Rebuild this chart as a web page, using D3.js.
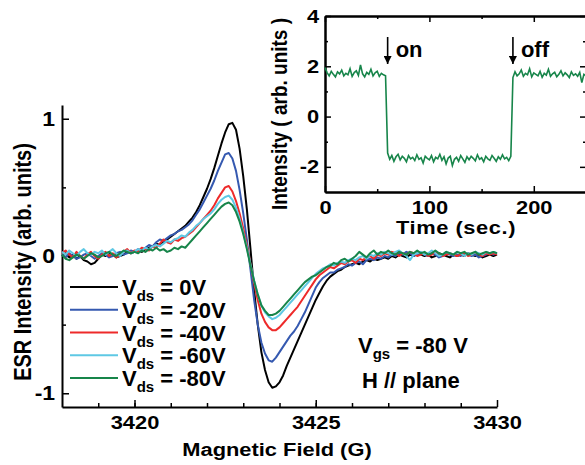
<!DOCTYPE html>
<html>
<head>
<meta charset="utf-8">
<script src="https://cdn.jsdelivr.net/npm/d3@7"></script>
<style>
  html, body { margin: 0; padding: 0; background: #fff; }
  svg { display: block; font-family: "Liberation Sans", Arial, sans-serif; font-weight: bold; }
</style>
</head>
<body>
<div id="chart"></div>
<script>
// campo magnético (G), passo 0.1
const field = d3.range(121).map(i => +(3418 + i * 0.1).toFixed(1));

// espectros ESR, um por Vds
const vds0 = [
  0.00, 0.02, -0.01, 0.01, -0.02, 0.00, -0.03, -0.04, -0.06, -0.05,
  -0.02, 0.01, 0.00, 0.02, 0.01, -0.01, 0.00, 0.01, 0.03, 0.02,
  0.03, 0.04, 0.03, 0.05, 0.06, 0.07, 0.09, 0.08, 0.10, 0.12,
  0.14, 0.16, 0.18, 0.20, 0.22, 0.25, 0.28, 0.32, 0.37, 0.43,
  0.49, 0.56, 0.64, 0.73, 0.82, 0.90, 0.96, 0.97, 0.92, 0.78,
  0.58, 0.34, 0.05, -0.25, -0.50, -0.70, -0.83, -0.92, -0.96, -0.95,
  -0.92, -0.87, -0.80, -0.74, -0.68, -0.62, -0.56, -0.50, -0.44, -0.38,
  -0.32, -0.27, -0.22, -0.18, -0.15, -0.13, -0.11, -0.10, -0.08, -0.07,
  -0.06, -0.05, -0.06, -0.04, -0.03, -0.04, -0.02, -0.03, -0.02, -0.01,
  -0.02, 0.00, -0.01, 0.01, 0.00, -0.01, 0.01, 0.00, 0.02, 0.01,
  0.00, 0.01, -0.01, 0.00, 0.02, 0.01, 0.00, -0.01, 0.01, 0.00,
  0.01, 0.00, 0.02, 0.01, 0.00, 0.01, -0.01, 0.00, 0.01, 0.00,
  0.01
];
const vds20 = [
  0.01, -0.01, 0.02, 0.00, -0.02, -0.01, 0.01, 0.02, 0.00, -0.02,
  0.00, 0.02, 0.01, -0.01, 0.00, 0.02, 0.03, 0.01, 0.02, 0.04,
  0.03, 0.05, 0.04, 0.06, 0.08, 0.07, 0.10, 0.12, 0.11, 0.13,
  0.15, 0.16, 0.18, 0.19, 0.21, 0.23, 0.26, 0.30, 0.34, 0.39,
  0.44, 0.49, 0.55, 0.62, 0.68, 0.74, 0.75, 0.71, 0.62, 0.48,
  0.31, 0.12, -0.10, -0.32, -0.50, -0.63, -0.71, -0.76, -0.77, -0.74,
  -0.70, -0.66, -0.62, -0.58, -0.55, -0.51, -0.46, -0.41, -0.35, -0.29,
  -0.23, -0.19, -0.16, -0.14, -0.12, -0.12, -0.10, -0.09, -0.08, -0.06,
  -0.07, -0.05, -0.04, -0.06, -0.03, -0.02, -0.03, -0.01, -0.02, 0.00,
  -0.01, 0.01, 0.00, 0.02, 0.01, 0.03, 0.02, 0.00, 0.01, 0.02,
  0.01, 0.00, 0.02, 0.01, -0.01, 0.00, 0.02, 0.01, 0.00, 0.01,
  0.00, 0.02, 0.01, 0.00, 0.01, -0.01, 0.00, 0.01, 0.02, 0.01,
  0.02
];
const vds40 = [
  0.02, 0.04, 0.01, -0.01, 0.03, 0.00, -0.02, 0.01, 0.03, 0.00,
  -0.02, 0.01, 0.03, 0.00, 0.02, -0.01, 0.01, 0.03, 0.05, 0.02,
  0.04, 0.03, 0.06, 0.05, 0.04, 0.07, 0.06, 0.09, 0.12, 0.10,
  0.09, 0.12, 0.11, 0.13, 0.14, 0.16, 0.18, 0.21, 0.24, 0.27,
  0.30, 0.33, 0.37, 0.42, 0.46, 0.50, 0.51, 0.47, 0.40, 0.31,
  0.20, 0.08, -0.06, -0.20, -0.32, -0.42, -0.48, -0.52, -0.54, -0.54,
  -0.52, -0.49, -0.46, -0.43, -0.40, -0.37, -0.33, -0.29, -0.25, -0.21,
  -0.17, -0.14, -0.12, -0.10, -0.08, -0.09, -0.07, -0.05, -0.06, -0.04,
  -0.03, -0.05, -0.02, -0.03, -0.01, 0.00, -0.02, 0.01, 0.00, 0.02,
  0.01, 0.03, 0.02, 0.00, 0.02, 0.01, 0.03, 0.02, 0.00, 0.01,
  0.02, 0.00, 0.01, 0.03, 0.02, 0.00, 0.01, 0.02, 0.01, 0.00,
  0.01, 0.02, 0.00, 0.01, 0.03, 0.01, 0.00, 0.02, 0.01, 0.02,
  0.01
];
const vds60 = [
  0.03, 0.01, 0.04, 0.02, 0.00, 0.03, 0.05, 0.02, 0.01, 0.03,
  0.02, 0.04, 0.01, 0.03, 0.05, 0.02, 0.00, 0.03, 0.04, 0.02,
  0.03, 0.05, 0.04, 0.06, 0.05, 0.07, 0.08, 0.07, 0.09, 0.11,
  0.10, 0.12, 0.13, 0.15, 0.14, 0.17, 0.19, 0.22, 0.24, 0.27,
  0.29, 0.31, 0.34, 0.38, 0.41, 0.43, 0.44, 0.41, 0.35, 0.27,
  0.17, 0.06, -0.06, -0.18, -0.28, -0.36, -0.41, -0.44, -0.46, -0.45,
  -0.43, -0.40, -0.37, -0.34, -0.31, -0.28, -0.25, -0.22, -0.19, -0.16,
  -0.13, -0.11, -0.09, -0.08, -0.06, -0.07, -0.05, -0.04, -0.05, -0.03,
  -0.02, -0.03, -0.01, 0.00, -0.02, 0.01, 0.00, 0.02, 0.01, 0.03,
  0.02, 0.01, 0.03, 0.04, 0.02, 0.00, -0.03, 0.01, 0.02, 0.03,
  0.01, 0.02, 0.04, 0.02, 0.00, 0.01, 0.03, 0.02, 0.01, 0.03,
  0.02, 0.00, 0.02, 0.01, 0.03, 0.02, 0.01, 0.03, 0.02, 0.03,
  0.02
];
const vds80 = [
  0.01, -0.02, -0.03, -0.01, 0.01, 0.00, -0.02, 0.00, 0.02, 0.01,
  -0.01, 0.00, 0.02, 0.03, 0.01, 0.00, 0.02, 0.04, 0.03, 0.02,
  0.03, 0.02, 0.04, 0.03, 0.05, 0.04, 0.06, 0.04, 0.05, 0.03,
  0.04, 0.06, 0.05, 0.07, 0.06, 0.09, 0.12, 0.15, 0.18, 0.21,
  0.24, 0.27, 0.30, 0.33, 0.36, 0.38, 0.39, 0.37, 0.32, 0.25,
  0.16, 0.05, -0.07, -0.18, -0.28, -0.36, -0.40, -0.43, -0.43, -0.42,
  -0.40, -0.37, -0.34, -0.31, -0.28, -0.25, -0.22, -0.19, -0.17, -0.15,
  -0.14, -0.12, -0.10, -0.08, -0.07, -0.05, -0.06, -0.03, -0.02, -0.04,
  -0.02, 0.00, 0.03, 0.01, -0.01, 0.02, 0.04, 0.01, 0.03, 0.02,
  0.04, 0.02, 0.01, 0.03, 0.02, 0.01, 0.03, 0.02, 0.04, 0.02,
  0.03, 0.01, 0.02, 0.04, 0.02, 0.01, 0.03, 0.02, 0.01, 0.03,
  0.02, 0.03, 0.01, 0.02, 0.03, 0.01, 0.02, 0.03, 0.02, 0.03,
  0.02
];
const seriesValues = [vds0, vds20, vds40, vds60, vds80];
const seriesLabels = ['0V', '-20V', '-40V', '-60V', '-80V'];
const seriesColors = ['#000000', '#3559b0', '#ee2a2a', '#5ec8e4', '#17854a'];

const xTicks = [3420, 3425, 3430];
const yTicks = [-1, 0, 1];

// inset: intensidade vs tempo (passo 2 s)
const time = d3.range(0, 251, 2);
const insetIntensity = [
  1.95, 1.75, 1.62, 1.80, 1.68, 1.58, 1.78, 1.70, 1.85, 1.62,
  1.72, 1.66, 1.90, 1.60, 1.75, 1.82, 1.64, 2.05, 1.70, 1.58,
  1.76, 1.68, 1.88, 1.62, 1.74, 1.80, 1.60, 1.72, 1.66, 1.62,
  -1.45, -1.70, -1.55, -1.78, -1.60, -1.50, -1.72, -1.58, -1.66, -1.80,
  -1.55, -1.68, -1.62, -1.75, -1.52, -1.70, -1.64, -1.85, -1.58, -1.66,
  -1.72, -1.55, -1.80, -1.62, -1.68, -1.50, -1.74, -1.60, -1.88, -1.65,
  -1.58, -1.95, -1.70, -1.62, -1.78, -1.55, -1.68, -1.82, -1.60, -1.72,
  -1.58, -1.66, -1.76, -1.52, -1.70, -1.64, -1.80, -1.58, -1.68, -1.74,
  -1.55, -1.66, -1.78, -1.60, -1.70, -1.52, -1.68, -1.62, -1.75, -1.58,
  1.55, 1.78, 1.62, 1.70, 1.85, 1.60, 1.72, 1.66, 1.90, 1.58,
  1.74, 1.68, 1.62, 1.80, 1.56, 1.72, 1.65, 1.88, 1.60, 1.70,
  1.76, 1.58, 1.68, 1.82, 1.62, 1.74, 1.66, 1.55, 1.78, 1.64,
  1.70, 1.60, 1.76, 1.35, 1.68, 1.62
];
const insetXTicks = [0, 100, 200];
const insetYTicks = [-2, 0, 2, 4];
const insetEvents = [{ t: 60, label: 'on' }, { t: 180, label: 'off' }];

const W = 585, H = 465;
const svg = d3.select('#chart').append('svg')
  .attr('width', W)
  .attr('height', H);

// estica o texto na horizontal (a figura original é mais larga)
const stretch = 1.15;
// rótulos sem separador de milhar e com hífen simples
const plain = d => String(d);

function styleTickText(sel, size) {
  sel.selectAll('text')
    .text(d => plain(d))
    .style('font-size', size + 'px')
    .style('font-family', '"Liberation Sans", Arial, sans-serif')
    .style('font-weight', 'bold')
    .attr('fill', '#000')
    .attr('transform', `scale(${stretch},1)`);
}

// ---------- gráfico principal ----------
const x = d3.scaleLinear().domain([3418, 3430]).range([62, 497]);
const y = d3.scaleLinear().domain([-1.1, 1.1]).range([407, 105]);

// ticks menores primeiro
svg.append('g')
  .attr('transform', `translate(0,${y.range()[0]})`)
  .call(d3.axisBottom(x).tickValues(d3.range(3419, 3430, 1)).tickSize(-4).tickSizeOuter(0).tickFormat(''))
  .call(g => g.select('.domain').remove())
  .selectAll('line').attr('stroke-width', 1.5);

svg.append('g')
  .attr('transform', `translate(${x.range()[0]},0)`)
  .call(d3.axisLeft(y).tickValues([-0.5, 0.5]).tickSize(-4).tickSizeOuter(0).tickFormat(''))
  .call(g => g.select('.domain').remove())
  .selectAll('line').attr('stroke-width', 1.5);

const xAxisG = svg.append('g')
  .attr('transform', `translate(0,${y.range()[0]})`)
  .call(d3.axisBottom(x).tickValues(xTicks).tickSize(-7).tickSizeOuter(0).tickPadding(9).tickFormat(plain));
xAxisG.select('.domain').attr('stroke-width', 2);
xAxisG.selectAll('line').attr('stroke-width', 1.5);
styleTickText(xAxisG, 19);

const yAxisG = svg.append('g')
  .attr('transform', `translate(${x.range()[0]},0)`)
  .call(d3.axisLeft(y).tickValues(yTicks).tickSize(-7).tickSizeOuter(0).tickPadding(6).tickFormat(plain));
yAxisG.select('.domain').attr('stroke-width', 2);
yAxisG.selectAll('line').attr('stroke-width', 1.5);
styleTickText(yAxisG, 20);

// títulos dos eixos
svg.append('text')
  .attr('transform', `translate(277,456) scale(${stretch},1)`)
  .attr('text-anchor', 'middle')
  .style('font-size', '19px')
  .text('Magnetic Field (G)');

svg.append('text')
  .attr('transform', `translate(31,262) rotate(-90) scale(1,${stretch})`)
  .attr('text-anchor', 'middle')
  .style('font-size', '20px')
  .text('ESR Intensity (arb. units)');

// curvas
const line = d3.line()
  .x((d, i) => x(field[i]))
  .y(d => y(d));

svg.append('g')
  .selectAll('path.curve')
  .data(seriesValues)
  .enter()
  .append('path')
  .attr('class', 'curve')
  .attr('d', d => line(d))
  .attr('fill', 'none')
  .attr('stroke', (d, i) => seriesColors[i])
  .attr('stroke-width', 2)
  .attr('stroke-linejoin', 'round');

// legenda
const legendY = d3.scaleLinear().domain([0, 4]).range([287, 378]);
const legend = svg.append('g');
seriesLabels.forEach((lab, i) => {
  const ly = legendY(i);
  legend.append('line')
    .attr('x1', 70).attr('x2', 118)
    .attr('y1', ly).attr('y2', ly)
    .attr('stroke', seriesColors[i])
    .attr('stroke-width', 2);
  const t = legend.append('text')
    .attr('x', 122)
    .attr('y', ly + 8)
    .style('font-size', '22px');
  t.append('tspan').text('V');
  t.append('tspan').attr('dy', 6).style('font-size', '15px').text('ds');
  t.append('tspan').attr('dy', -6).text(' = ' + lab);
});

// anotações
const vgs = svg.append('text')
  .attr('x', 358).attr('y', 353)
  .style('font-size', '22px');
vgs.append('tspan').text('V');
vgs.append('tspan').attr('dy', 6).style('font-size', '15px').text('gs');
vgs.append('tspan').attr('dy', -6).text(' = -80 V');

svg.append('text')
  .attr('x', 362).attr('y', 388)
  .style('font-size', '22px')
  .text('H // plane');

// ---------- inset ----------
const ix = d3.scaleLinear().domain([0, 250]).range([325, 586]);
const iy = d3.scaleLinear().domain([-3, 4]).range([192, 16]);

const insetG = svg.append('g');

// ticks menores (dentro) nos quatro lados
insetG.append('g')
  .attr('transform', `translate(0,${iy(-3)})`)
  .call(d3.axisBottom(ix).tickValues([50, 150, 250]).tickSize(-3).tickSizeOuter(0).tickFormat(''));
insetG.append('g')
  .attr('transform', `translate(0,${iy(4)})`)
  .call(d3.axisTop(ix).tickValues([50, 150, 250]).tickSize(-3).tickSizeOuter(0).tickFormat(''));
insetG.append('g')
  .attr('transform', `translate(${ix(0)},0)`)
  .call(d3.axisLeft(iy).tickValues([-1, 1, 3]).tickSize(-3).tickSizeOuter(0).tickFormat(''));
insetG.append('g')
  .attr('transform', `translate(${ix(250)},0)`)
  .call(d3.axisRight(iy).tickValues([-1, 1, 3]).tickSize(-3).tickSizeOuter(0).tickFormat(''));

const ixAxis = insetG.append('g')
  .attr('transform', `translate(0,${iy(-3)})`)
  .call(d3.axisBottom(ix).tickValues(insetXTicks).tickSize(-6).tickSizeOuter(0).tickPadding(9).tickFormat(plain));
insetG.append('g')
  .attr('transform', `translate(0,${iy(4)})`)
  .call(d3.axisTop(ix).tickValues(insetXTicks).tickSize(-6).tickSizeOuter(0).tickFormat(''));
const iyAxis = insetG.append('g')
  .attr('transform', `translate(${ix(0)},0)`)
  .call(d3.axisLeft(iy).tickValues(insetYTicks).tickSize(-6).tickSizeOuter(0).tickPadding(5).tickFormat(plain));
insetG.append('g')
  .attr('transform', `translate(${ix(250)},0)`)
  .call(d3.axisRight(iy).tickValues(insetYTicks).tickSize(-6).tickSizeOuter(0).tickFormat(''));

insetG.selectAll('.domain').attr('stroke-width', 2);
insetG.selectAll('.tick line').attr('stroke-width', 1.5);
styleTickText(ixAxis, 19);
styleTickText(iyAxis, 19);

insetG.append('text')
  .attr('transform', `translate(456,234) scale(${stretch},1)`)
  .attr('text-anchor', 'middle')
  .style('font-size', '19px')
  .style('letter-spacing', '0.5px')
  .text('Time (sec.)');

insetG.append('text')
  .attr('transform', `translate(287,114) rotate(-90) scale(1,${stretch})`)
  .attr('text-anchor', 'middle')
  .style('font-size', '19px')
  .text('Intensity ( arb. units )');

insetG.append('path')
  .datum(insetIntensity)
  .attr('d', d3.line().x((d, i) => ix(time[i])).y(d => iy(d)))
  .attr('fill', 'none')
  .attr('stroke', '#17854a')
  .attr('stroke-width', 1.6);

// setas on/off
svg.append('defs').append('marker')
  .attr('id', 'arrow')
  .attr('viewBox', '0 0 10 10')
  .attr('refX', 10).attr('refY', 5)
  .attr('markerWidth', 5).attr('markerHeight', 5)
  .attr('markerUnits', 'strokeWidth')
  .attr('orient', 'auto')
  .append('path')
  .attr('d', 'M0,0 L10,5 L0,10 z')
  .attr('fill', '#000');

insetEvents.forEach(ev => {
  insetG.append('line')
    .attr('x1', ix(ev.t)).attr('x2', ix(ev.t))
    .attr('y1', 37).attr('y2', 64)
    .attr('stroke', '#000')
    .attr('stroke-width', 1.6)
    .attr('marker-end', 'url(#arrow)');
  insetG.append('text')
    .attr('x', ix(ev.t) + 8)
    .attr('y', 57)
    .style('font-size', '22px')
    .text(ev.label);
});
</script>
</body>
</html>
